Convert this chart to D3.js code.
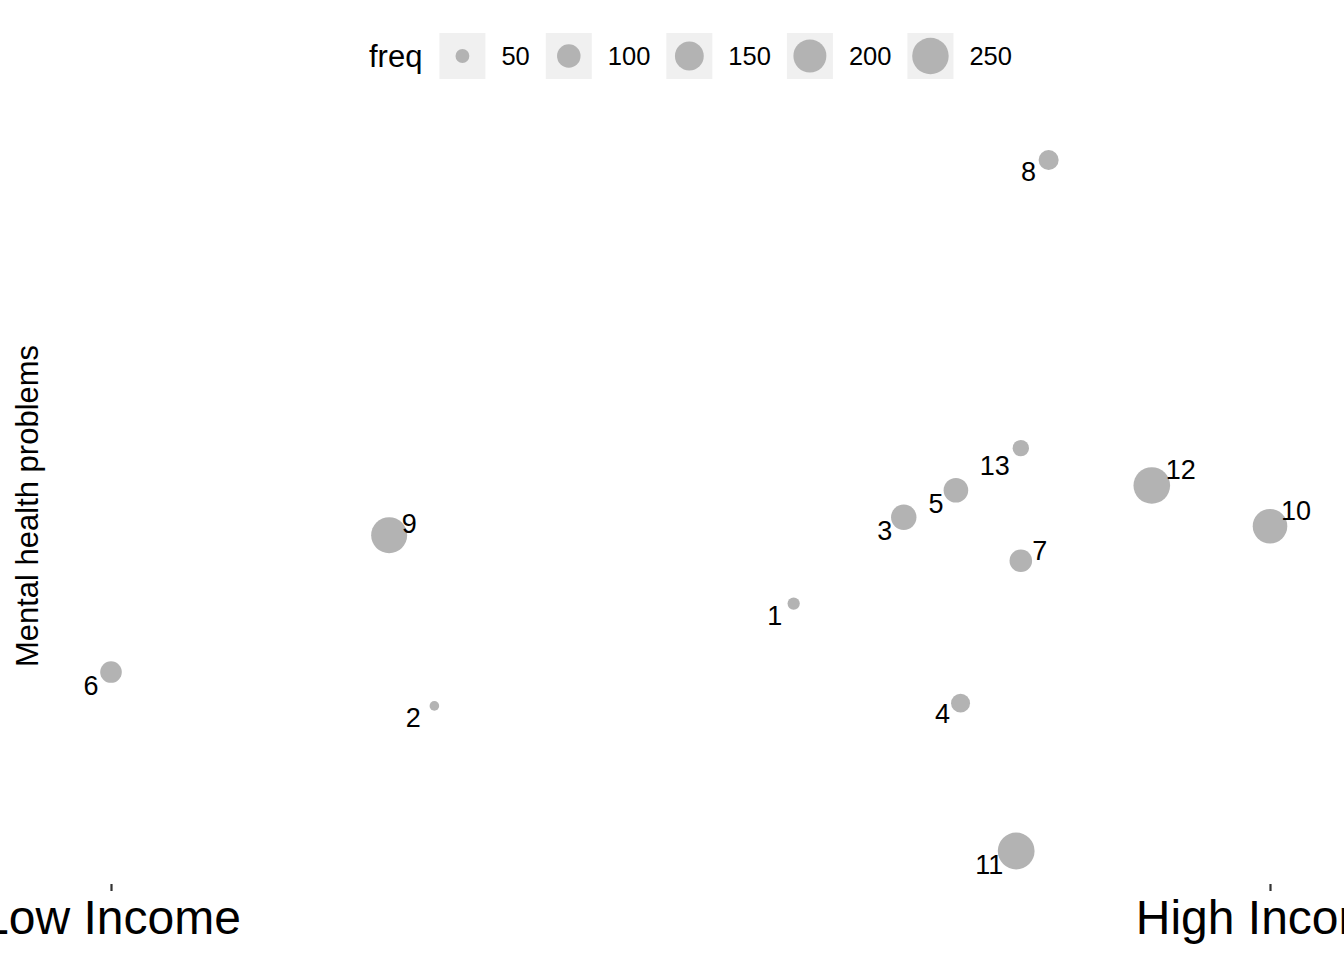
<!DOCTYPE html>
<html>
<head>
<meta charset="utf-8">
<script src="https://cdn.jsdelivr.net/npm/d3@7"></script>
<style>
  html, body { margin: 0; padding: 0; background: #ffffff; }
  svg { display: block; font-family: "Liberation Sans", Arial, Helvetica, sans-serif; }
</style>
</head>
<body>
<svg id="chart" width="1344" height="960"></svg>
<script>
// ---- data ----
const ids      = ["1","2","3","4","5","6","7","8","9","10","11","12","13"];
const income   = [58.9, 27.9, 68.4, 73.3, 72.9, 0, 78.5, 80.9, 24.0, 100, 78.1, 89.8, 78.5];
const mental   = [35.8, 21.0, 48.3, 21.4, 52.2, 25.9, 42.0, 100, 45.7, 47.0, 0, 52.9, 58.3];
const freq     = [47, 45, 116, 70, 109, 86, 93, 76, 243, 222, 255, 252, 58];
const xTickValues = [0, 100];
const xTickLabels = ["Low Income", "High Income"];
const sizeBreaks  = [50, 100, 150, 200, 250];
const legendTitle = "freq";
const yTitle = "Mental health problems";
// label offsets (repelled text placement, px)
const labelDx = [-19, -21, -19, -18, -20, -20, 19, -20, 20, 26, -27, 29, -26];
const labelDy = [ 12,  12,  14,  11,  14,  14, -10, 12, -11, -15, 14, -15, 18];

const data = ids.map((id, i) => ({id, x: income[i], y: mental[i], f: freq[i], dx: labelDx[i], dy: labelDy[i]}));

const svg = d3.select("#chart");
const pointColor = "#b3b3b3";

const x = d3.scaleLinear().domain([0, 100]).range([111, 1270]);
const y = d3.scaleLinear().domain([0, 100]).range([851, 160]);
const fExt = d3.extent(freq);
const rBase = d3.scaleSqrt().domain([0, fExt[1] - fExt[0]]).range([4.8, 18.4]);
const r = v => rBase(Math.max(0, v - fExt[0]));

// ---- x axis ----
const xAxis = d3.axisBottom(x)
  .tickValues(xTickValues)
  .tickSize(7)
  .tickFormat((d, i) => xTickLabels[i]);
const gx = svg.append("g").attr("transform", "translate(0,884)").call(xAxis);
gx.select(".domain").remove();
gx.selectAll(".tick line").attr("stroke", "#333333").attr("stroke-width", 2.2);
gx.selectAll(".tick text")
  .attr("y", 50).attr("dy", 0)
  .attr("fill", "#000000")
  .style("font-size", "48px")
  .style("font-family", "'Liberation Sans', Arial, sans-serif");

// ---- y title ----
svg.append("text")
  .attr("transform", "translate(38,506) rotate(-90)")
  .attr("text-anchor", "middle")
  .style("font-size", "31px")
  .attr("fill", "#000")
  .text(yTitle);

// ---- points ----
svg.append("g").selectAll("circle")
  .data(data).join("circle")
  .attr("cx", d => x(d.x))
  .attr("cy", d => y(d.y))
  .attr("r", d => r(d.f))
  .attr("fill", pointColor);

// ---- labels ----
svg.append("g").selectAll("text")
  .data(data).join("text")
  .attr("x", d => x(d.x) + d.dx)
  .attr("y", d => y(d.y) + d.dy)
  .attr("text-anchor", "middle")
  .attr("dominant-baseline", "central")
  .style("font-size", "27px")
  .attr("fill", "#000")
  .text(d => d.id);

// ---- legend ----
const lg = svg.append("g");
const keySize = 46, keyTop = 33, midY = keyTop + keySize / 2;
let cx = 369;
const title = lg.append("text")
  .attr("x", cx).attr("y", midY)
  .attr("dominant-baseline", "central")
  .style("font-size", "31px")
  .attr("fill", "#000")
  .text(legendTitle);
cx += title.node().getComputedTextLength() + 17;
sizeBreaks.forEach((b, i) => {
  lg.append("rect")
    .attr("x", cx).attr("y", keyTop)
    .attr("width", keySize).attr("height", keySize)
    .attr("fill", "#f0f0f0");
  lg.append("circle")
    .attr("cx", cx + keySize / 2).attr("cy", midY)
    .attr("r", r(b))
    .attr("fill", pointColor);
  cx += keySize + 16;
  const t = lg.append("text")
    .attr("x", cx).attr("y", midY)
    .attr("dominant-baseline", "central")
    .style("font-size", "25.5px")
    .attr("fill", "#000")
    .text(b);
  cx += t.node().getComputedTextLength() + 16;
});
</script>
</body>
</html>
